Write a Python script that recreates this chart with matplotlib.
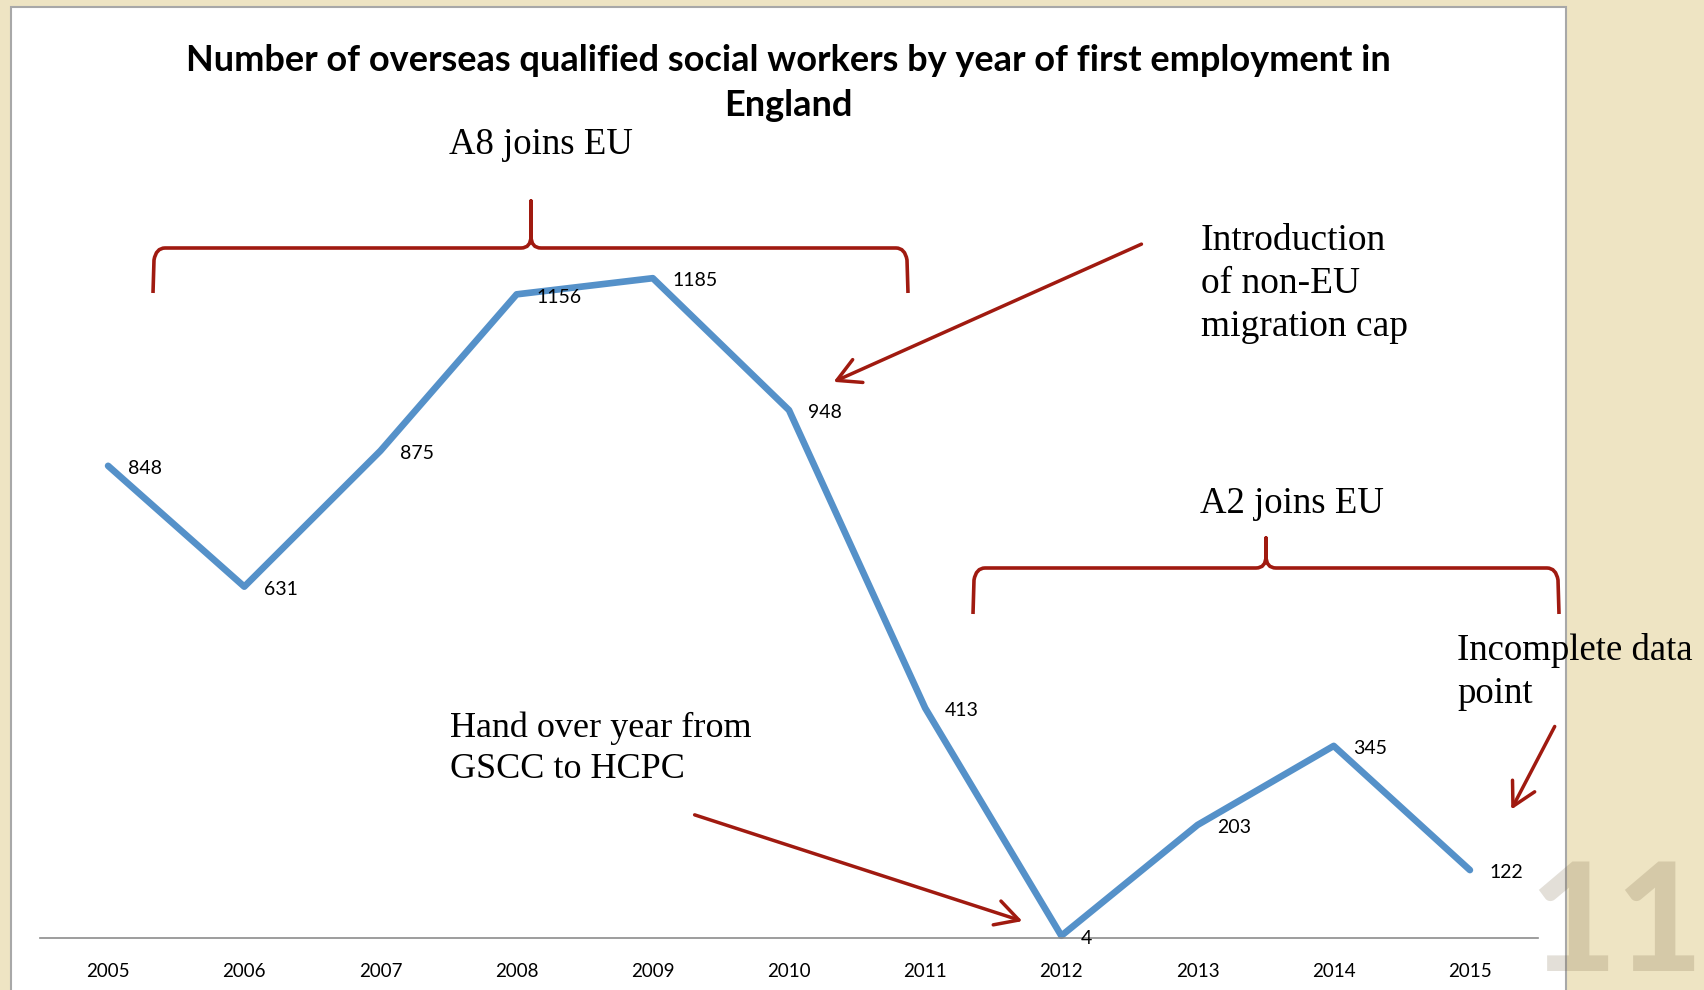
import matplotlib.pyplot as plt
from matplotlib.patches import Rectangle, PathPatch, FancyArrowPatch
from matplotlib.path import Path

# data
years = ['2005', '2006', '2007', '2008', '2009', '2010',
         '2011', '2012', '2013', '2014', '2015']
workers = [848, 631, 875, 1156, 1185, 948, 413, 4, 203, 345, 122]

title = ('Number of overseas qualified social workers by year of first employment in\n'
         'England')

W, H = 1704, 990
RED = '#A01A10'
BLUE = '#5591C9'
SERIF = 'Liberation Serif'


def px(x, y):
    # pixel (from top-left) -> figure fraction
    return (x / W, 1 - y / H)


fig = plt.figure(figsize=(W / 100, H / 100), dpi=100)
fig.patch.set_facecolor('#EEE4C3')

# white slide panel
panel = Rectangle(px(11, 1000), (1566 - 11) / W, (1000 - 7) / H,
                  transform=fig.transFigure, facecolor='white',
                  edgecolor='#A8A8A8', lw=1.5, zorder=-2)
fig.add_artist(panel)

# faint slide number
fig.text(1703 / W, 1 - 858 / H, '11', ha='right', va='top', fontsize=108,
         family='Lato', fontweight='black', color=(0.45, 0.38, 0.25),
         alpha=0.2, zorder=-1)

# chart
y_top = 1400
ax = fig.add_axes([40 / W, (H - 938) / H, 1498 / W, y_top * 0.5568 / H])
ax.set_facecolor('none')
ax.plot(range(len(years)), workers, color=BLUE, lw=4.8,
        solid_joinstyle='round', solid_capstyle='round', clip_on=False)
for i, v in enumerate(workers):
    ax.annotate(str(v), (i, v), xytext=(14, -2), textcoords='offset points',
                ha='left', va='center', fontsize=14, family='Lato')

ax.set_xlim(-0.5, len(years) - 0.5)
ax.set_ylim(0, y_top)
ax.set_xticks(range(len(years)), years)
ax.set_yticks([])
ax.tick_params(axis='x', length=0, pad=18, labelsize=13.5)
for lab in ax.get_xticklabels():
    lab.set_family('Lato')
for s in ['top', 'left', 'right']:
    ax.spines[s].set_visible(False)
ax.spines['bottom'].set_color('#8C8C8C')
ax.spines['bottom'].set_linewidth(1.2)

fig.text(788 / W, 1 - 83 / H, title, ha='center', va='center', fontsize=26,
         fontweight='bold', family='Lato', linespacing=1.45)


def brace(x0, x1, ytop, ytip, xp, yp, r=12):
    pts = [(x0, ytip), (x0 + 1, ytop + r), (x0 + 3, ytop), (x0 + r, ytop),
           (xp - 10, ytop), (xp, ytop), (xp, ytop - 12), (xp, yp),
           (xp, ytop - 12), (xp, ytop), (xp + 10, ytop),
           (x1 - r, ytop), (x1 - 3, ytop), (x1 - 1, ytop + r), (x1, ytip)]
    codes = [Path.MOVETO, Path.LINETO, Path.CURVE3, Path.CURVE3,
             Path.LINETO, Path.CURVE3, Path.CURVE3, Path.LINETO,
             Path.LINETO, Path.CURVE3, Path.CURVE3,
             Path.LINETO, Path.CURVE3, Path.CURVE3, Path.LINETO]
    verts = [px(x, y) for x, y in pts]
    p = PathPatch(Path(verts, codes), transform=fig.transFigure,
                  facecolor='none', edgecolor=RED, lw=2.6,
                  capstyle='butt', joinstyle='round')
    fig.add_artist(p)


def arrow(x0, y0, x1, y1):
    a = FancyArrowPatch(px(x0, y0), px(x1, y1), transform=fig.transFigure,
                        arrowstyle='->,head_length=0.55,head_width=0.3',
                        mutation_scale=30, color=RED, lw=2.5)
    fig.add_artist(a)


brace(153, 908, 248, 293, 531, 201)
brace(973, 1559, 568, 614, 1266, 538)

fig.text(449 / W, 1 - 145 / H, 'A8 joins EU', ha='left', va='center',
         fontsize=26.5, family=SERIF)
fig.text(1200 / W, 1 - 504 / H, 'A2 joins EU', ha='left', va='center',
         fontsize=26.5, family=SERIF)
fig.text(1201 / W, 1 - 284 / H, 'Introduction\nof non-EU\nmigration cap',
         ha='left', va='center', fontsize=27, family=SERIF, linespacing=1.32)
fig.text(450 / W, 1 - 749 / H, 'Hand over year from\nGSCC to HCPC',
         ha='left', va='center', fontsize=26, family=SERIF, linespacing=1.32)
fig.text(1457 / W, 1 - 672 / H, 'Incomplete data\npoint',
         ha='left', va='center', fontsize=26.5, family=SERIF, linespacing=1.32)

arrow(1144, 243, 831, 383)
arrow(692, 814, 1025, 922)
arrow(1556, 724, 1510, 812)

fig.savefig('out.png', dpi=100, facecolor=fig.get_facecolor())
